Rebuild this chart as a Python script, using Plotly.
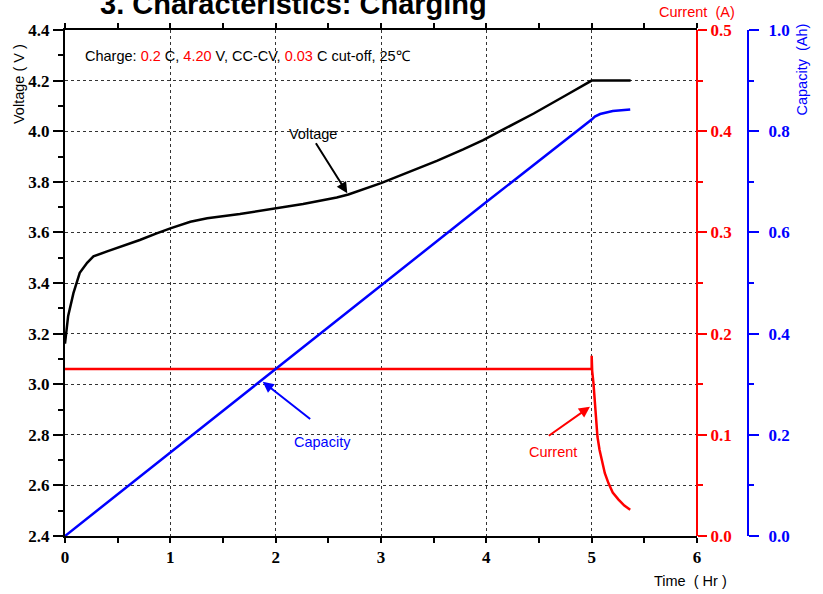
import plotly.graph_objects as go

# ---- data ----
volt_t = [0, 0.03, 0.08, 0.14, 0.21, 0.27, 0.4, 0.55, 0.71, 0.87, 1.0, 1.19, 1.35, 1.66,
          1.95, 2.26, 2.58, 2.69, 3.0, 3.28, 3.53, 3.78, 3.97, 4.13, 4.45, 4.76, 5.0, 5.37]
volt_v = [3.16, 3.27, 3.36, 3.44, 3.48, 3.505, 3.525, 3.546, 3.57, 3.596, 3.616, 3.642, 3.656, 3.673,
          3.691, 3.712, 3.738, 3.75, 3.795, 3.84, 3.883, 3.928, 3.965, 4.0, 4.07, 4.143, 4.2, 4.2]

cur_t = [0, 5.0, 5.0, 5.005, 5.017, 5.033, 5.055, 5.075, 5.097, 5.125, 5.16, 5.2, 5.255, 5.31, 5.366]
cur_a = [0.165, 0.165, 0.178, 0.163, 0.151, 0.128, 0.098, 0.085, 0.075, 0.062, 0.052, 0.043, 0.036, 0.030, 0.026]

cap_t = [0, 1, 2, 3, 4, 5.0, 5.03, 5.08, 5.2, 5.366]
cap_ah = [0, 0.165, 0.33, 0.495, 0.66, 0.823, 0.829, 0.834, 0.840, 0.843]

title_text = "3. Characteristics: Charging"
charge_text = ("Charge: <span style='color:#ff0000'>0.2</span> C, "
               "<span style='color:#ff0000'>4.20</span> V, CC-CV, "
               "<span style='color:#ff0000'>0.03</span> C cut-off, 25\u2103")

SANS = "Liberation Sans"
SERIF = "Liberation Serif"
RED = "#ff0000"
BLUE = "#0000ff"

XDOM = 632 / 738
POS_BLUE = (748 - 65) / 738

fig = go.Figure()
fig.add_trace(go.Scatter(x=volt_t, y=volt_v, mode="lines", line=dict(color="black", width=2.5),
                         yaxis="y", hoverinfo="skip"))
fig.add_trace(go.Scatter(x=cur_t, y=cur_a, mode="lines", line=dict(color=RED, width=2.5),
                         yaxis="y2", hoverinfo="skip"))
fig.add_trace(go.Scatter(x=cap_t, y=cap_ah, mode="lines", line=dict(color=BLUE, width=2.5),
                         yaxis="y3", hoverinfo="skip"))

tickfont_black = dict(family=SERIF, size=17, color="black", weight="bold")

fig.update_layout(
    width=823, height=594,
    margin=dict(l=65, r=20, t=30, b=58),
    paper_bgcolor="white", plot_bgcolor="white",
    showlegend=False,
    xaxis=dict(domain=[0, XDOM], range=[0, 6], tick0=0, dtick=1,
               ticks="outside", ticklen=5, tickwidth=2, tickcolor="black",
               minor=dict(dtick=0.5, ticks="outside", ticklen=5, tickwidth=2, tickcolor="black", showgrid=False),
               showline=True, linewidth=2, linecolor="black", mirror="ticks",
               showgrid=True, gridcolor="#333333", griddash="dot", gridwidth=1,
               zeroline=False, tickfont=tickfont_black),
    yaxis=dict(range=[2.4, 4.4], tick0=2.4, dtick=0.2, tickformat=".1f",
               ticks="outside", ticklen=10, tickwidth=2, tickcolor="black",
               minor=dict(dtick=0.1, ticks="outside", ticklen=5, tickwidth=2, tickcolor="black", showgrid=False),
               showline=True, linewidth=2, linecolor="black",
               showgrid=True, gridcolor="#333333", griddash="dot", gridwidth=1,
               zeroline=False, tickfont=tickfont_black),
    yaxis2=dict(overlaying="y", anchor="free", position=XDOM, side="right",
                range=[0, 0.5], tick0=0, dtick=0.1, tickformat=".1f",
                ticks="outside", ticklen=9, tickwidth=2, tickcolor=RED,
                minor=dict(dtick=0.05, ticks="outside", ticklen=5, tickwidth=2, tickcolor=RED, showgrid=False),
                showline=True, linewidth=2, linecolor=RED, showgrid=False, zeroline=False,
                tickfont=dict(family=SERIF, size=17, color=RED, weight="bold")),
    yaxis3=dict(overlaying="y", anchor="free", position=POS_BLUE, side="right",
                range=[0, 1.0], tick0=0, dtick=0.2, tickformat=".1f",
                ticks="outside", ticklen=10, tickwidth=2, tickcolor=BLUE,
                minor=dict(dtick=0.1, ticks="outside", ticklen=5, tickwidth=2, tickcolor=BLUE, showgrid=False),
                showline=True, linewidth=2, linecolor=BLUE, showgrid=False, zeroline=False,
                ticklabelstandoff=6,
                tickfont=dict(family=SERIF, size=17, color=BLUE, weight="bold")),
    yaxis4=dict(overlaying="y", anchor="free", position=POS_BLUE, side="left",
                range=[0, 1.0], tick0=0, dtick=0.2,
                ticks="outside", ticklen=10, tickwidth=2, tickcolor=BLUE,
                minor=dict(dtick=0.1, ticks="outside", ticklen=5, tickwidth=2, tickcolor=BLUE, showgrid=False),
                showline=False, showgrid=False, zeroline=False, showticklabels=False),
)

annos = [
    dict(text=title_text, xref="paper", yref="paper", x=(293 - 65) / 738, y=1 + 26 / 506,
         xanchor="center", yanchor="middle", showarrow=False,
         font=dict(family=SANS, size=29, color="black", weight="bold")),
    dict(text="Voltage ( V )", xref="paper", yref="paper", x=(19 - 65) / 738, y=(536 - 84) / 506,
         textangle=-90, xanchor="center", yanchor="middle", showarrow=False,
         font=dict(family=SANS, size=14.5, color="black")),
    dict(text="Current\u00a0 (A)", xref="paper", yref="paper", x=XDOM, y=(536 - 12) / 506,
         xanchor="center", yanchor="middle", showarrow=False,
         font=dict(family=SANS, size=14.5, color=RED)),
    dict(text="Capacity\u00a0 (Ah)", xref="paper", yref="paper", x=(801.5 - 65) / 738, y=(536 - 70) / 506,
         textangle=-90, xanchor="center", yanchor="middle", showarrow=False,
         font=dict(family=SANS, size=14.5, color=BLUE)),
    dict(text="Time\u00a0 ( Hr )", xref="paper", yref="paper", x=(690 - 65) / 738, y=(536 - 581) / 506,
         xanchor="center", yanchor="middle", showarrow=False,
         font=dict(family=SANS, size=14.5, color="black")),
    dict(text=charge_text, xref="x", yref="y", x=0.174, y=4.297,
         xanchor="left", yanchor="middle", showarrow=False,
         font=dict(family=SANS, size=14.5, color="black")),
    # labels
    dict(text="Voltage", xref="x", yref="y", x=2.357, y=3.987, showarrow=False,
         xanchor="center", yanchor="middle", font=dict(family=SANS, size=14.5, color="black")),
    dict(text="Capacity", xref="x", yref="y", x=2.445, y=2.772, showarrow=False,
         xanchor="center", yanchor="middle", font=dict(family=SANS, size=14.5, color=BLUE)),
    dict(text="Current", xref="x", yref="y", x=4.63, y=2.734, showarrow=False,
         xanchor="center", yanchor="middle", font=dict(family=SANS, size=14.5, color=RED)),
    # arrows
    dict(text="", xref="x", yref="y", axref="x", ayref="y", x=2.68, y=3.755, ax=2.373, ay=3.958,
         showarrow=True, arrowhead=2, arrowsize=1.1, arrowwidth=2, arrowcolor="black", standoff=0),
    dict(text="", xref="x", yref="y", axref="x", ayref="y", x=1.877, y=3.010, ax=2.342, ay=2.858,
         showarrow=True, arrowhead=2, arrowsize=1.1, arrowwidth=2, arrowcolor=BLUE, standoff=0),
    dict(text="", xref="x", yref="y", axref="x", ayref="y", x=4.984, y=2.911, ax=4.579, ay=2.792,
         showarrow=True, arrowhead=2, arrowsize=1.1, arrowwidth=2, arrowcolor=RED, standoff=0),
]
fig.update_layout(annotations=annos)

fig.write_html("out.html", config={"displayModeBar": False},
               post_script="document.body.style.margin='0px';")
